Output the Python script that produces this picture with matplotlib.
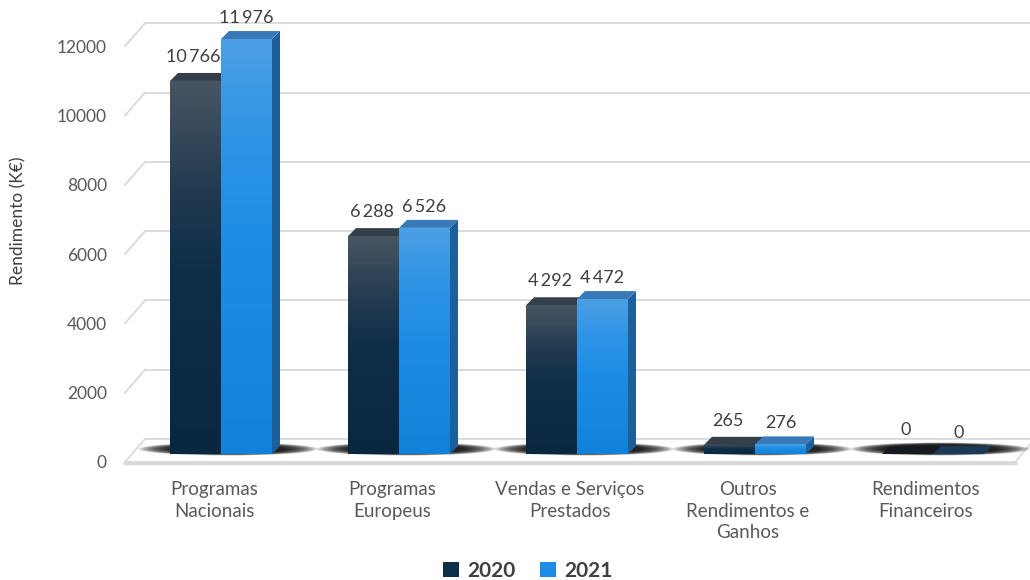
import numpy as np
import matplotlib
matplotlib.use("Agg")
import matplotlib.pyplot as plt
from matplotlib.patches import Polygon, Ellipse, Patch
from matplotlib.lines import Line2D
from matplotlib.transforms import IdentityTransform, ScaledTranslation
from matplotlib.colors import LinearSegmentedColormap

# ---------------- data ----------------
categories = ["Programas\nNacionais", "Programas\nEuropeus", "Vendas e Serviços\nPrestados",
              "Outros\nRendimentos e\nGanhos", "Rendimentos\nFinanceiros"]
series_names = ["2020", "2021"]
values_2020 = [10766, 6288, 4292, 265, 0]
values_2021 = [11976, 6526, 4472, 276, 0]
y_ticks = [0, 2000, 4000, 6000, 8000, 10000, 12000]
y_label = "Rendimento (K€)"

plt.rcParams["font.family"] = ["Lato", "DejaVu Sans"]

W, H, DPI = 1030, 580, 100
fig = plt.figure(figsize=(W / DPI, H / DPI), dpi=DPI)
ax = fig.add_axes([132 / W, (H - 454) / H, 890 / W, (454 - 38.2) / H])
ax.set_xlim(-0.5, 4.5)
ax.set_ylim(0, 12000)
ax.set_autoscale_on(False)
ax.patch.set_visible(False)
for s in ax.spines.values():
    s.set_visible(False)

# depth offsets (display pixels, y up)
FRONT = (-7, -8)
BAR = (0, 0)
BARBACK = (8, 8)
BACK = (13, 15)

def px(x, v, d):
    X, Y = ax.transData.transform((x, v))
    return (X + d[0], Y + d[1])

GRID = "#d9d9d9"
ID = IdentityTransform()

# ---------------- back wall, floor ----------------
for v in y_ticks:
    p0 = px(-0.5, v, BACK)
    ax.add_artist(Line2D([p0[0], W + 20], [p0[1], p0[1]], transform=ID, color=GRID,
                         lw=1.3, zorder=0.5, clip_on=False))
    f0 = px(-0.5, v, FRONT)
    if v != 0:
        ax.add_artist(Line2D([f0[0], p0[0]], [f0[1], p0[1]], transform=ID, color=GRID,
                             lw=1.3, zorder=0.5, clip_on=False))

floor = [px(-0.5, 0, FRONT), px(4.5, 0, FRONT), px(4.5, 0, BACK), px(-0.5, 0, BACK)]
ax.add_artist(Polygon(floor, closed=True, transform=ID, facecolor="white", edgecolor=GRID,
                      lw=1.2, zorder=0.6, clip_on=False))
fl, fr = px(-0.5, 0, FRONT), px(4.5, 0, FRONT)
ax.add_artist(Line2D([fl[0], fr[0]], [fl[1] - 1, fr[1] - 1], transform=ID, color=GRID,
                     lw=2.5, zorder=0.6, clip_on=False))

# ---------------- bars ----------------
bw = 51 / 178
x = np.arange(len(categories))

cmap20 = LinearSegmentedColormap.from_list("c20", [(0, "#0a2740"), (0.5, "#0f2e48"),
                                                   (0.72, "#243b51"), (1, "#485663")])
cmap21 = LinearSegmentedColormap.from_list("c21", [(0, "#1282d9"), (0.5, "#1e8ce4"),
                                                   (0.75, "#2d94e6"), (1, "#4d9fe3")])
grad = np.linspace(0, 1, 256).reshape(-1, 1)

# soft shadows on the floor
for i in x:
    c = px(i + 0.04, 0, (0, 5))
    n = 24
    for k in range(n):
        f = k / (n - 1)
        ax.add_artist(Ellipse(c, width=180 - 66 * f, height=13 - 4 * f, transform=ID,
                              facecolor="black", edgecolor="none", alpha=0.075,
                              zorder=1, clip_on=False))

series = [
    (values_2020, -bw, cmap20, "#343f4a", "#2a3440", "#16191d", 2),
    (values_2021, 0.0, cmap21, "#3a79b8", "#1f5f99", "#1c3a58", 4),
]
legend_colors = ["#0f2e48", "#1e8ce4"]

for vals, off, cmap, topc, sidec, zeroc, z in series:
    bars = ax.bar(x + off, vals, bw, align="edge", color=cmap(0.5), edgecolor="none",
                  zorder=z + 1)
    for i, (b, v) in enumerate(zip(bars, vals)):
        x0, x1 = i + off, i + off + bw
        side = [px(x1, 0, BAR), px(x1, v, BAR), px(x1, v, BARBACK), px(x1, 0, BARBACK)]
        top = [px(x0, v, BAR), px(x1, v, BAR), px(x1, v, BARBACK), px(x0, v, BARBACK)]
        ax.add_artist(Polygon(side, closed=True, transform=ID, facecolor=sidec,
                              edgecolor="none", zorder=z, clip_on=False))
        ax.add_artist(Polygon(top, closed=True, transform=ID,
                              facecolor=(topc if v > 0 else zeroc),
                              edgecolor="none", zorder=z, clip_on=False))
        if v > 0:
            im = ax.imshow(grad, cmap=cmap, origin="lower", aspect="auto",
                           extent=[x0, x1, 0, v], zorder=z + 1.1, interpolation="bilinear")
            im.set_clip_path(b)

# data labels
for vals, off, dx, dy in [(values_2020, -bw, -2, 24), (values_2021, 0.0, 0, 21)]:
    for i, v in enumerate(vals):
        ax.annotate(f"{v:,}".replace(",", "\u2009"), xy=(i + off + bw / 2, v),
                    xytext=(dx, dy), textcoords="offset pixels", ha="center", va="center",
                    fontsize=13, color="#404040", zorder=8, annotation_clip=False)

# ---------------- axes labels ----------------
front_shift = ScaledTranslation(FRONT[0] / DPI, FRONT[1] / DPI, fig.dpi_scale_trans)
ax.set_yticks(y_ticks)
ax.set_yticklabels([str(t) for t in y_ticks], fontsize=12.5, color="#595959")
ax.tick_params(axis="y", length=0, pad=13)
for lbl in ax.get_yticklabels():
    lbl.set_transform(lbl.get_transform() + front_shift)

ax.set_xticks(x)
ax.set_xticklabels(categories, fontsize=13.5, color="#595959", linespacing=1.3)
ax.tick_params(axis="x", length=0, pad=14)
for lbl in ax.get_xticklabels():
    lbl.set_transform(lbl.get_transform() + front_shift)

fig.text(18 / W, 1 - 221 / H, y_label, rotation=90, ha="center", va="center",
         fontsize=12.5, color="#404040")

handles = [Patch(facecolor=c, edgecolor="none") for c in legend_colors]
leg = fig.legend(handles, series_names, loc="center", bbox_to_anchor=(528 / W, 1 - 571 / H),
                 ncol=2, frameon=False, handlelength=0.75, handleheight=0.75,
                 handletextpad=0.4, columnspacing=1.2,
                 prop={"size": 15, "weight": "bold"})
for t in leg.get_texts():
    t.set_color("#404040")

fig.savefig("out.png", dpi=DPI)
